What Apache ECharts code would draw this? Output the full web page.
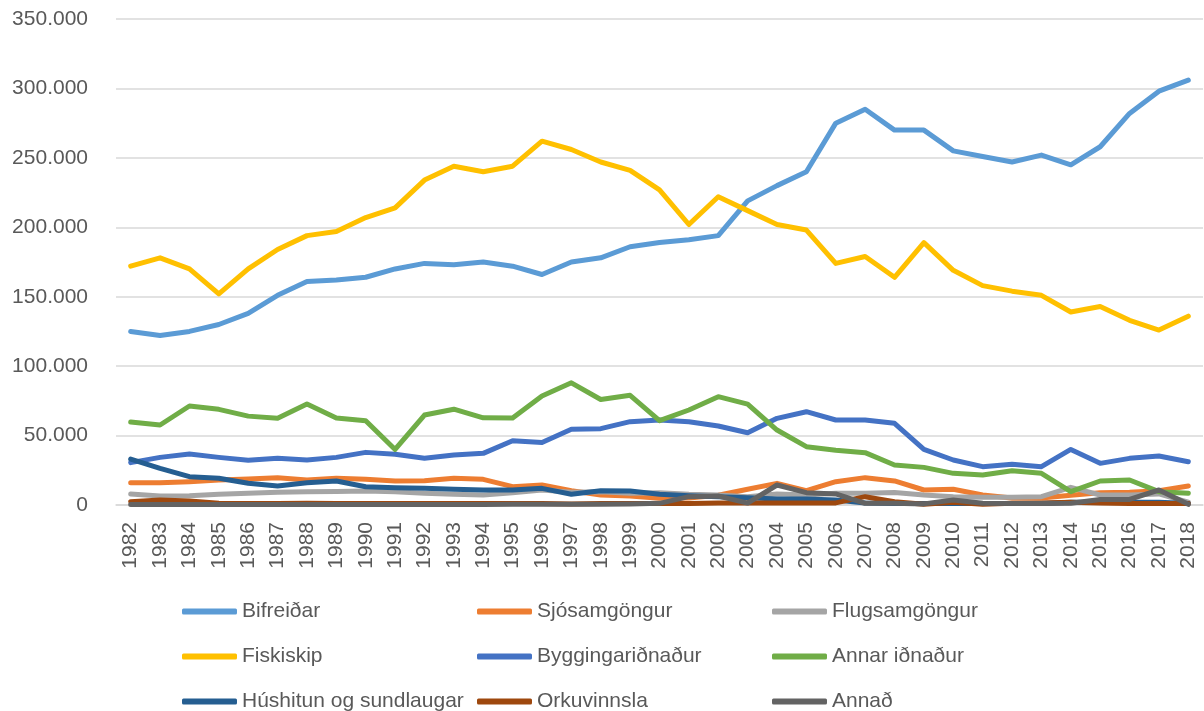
<!DOCTYPE html>
<html lang="is" style="height: 100%">
<head>
  <meta charset="utf-8">
</head>
<body style="height: 100%; margin: 0; background: #fff">
  <div id="container" style="width: 1204px; height: 711px"></div>

  <script type="text/javascript" src="https://cdn.jsdelivr.net/npm/echarts@6/dist/echarts.min.js"></script>

  <script type="text/javascript">
    var years = ['1982', '1983', '1984', '1985', '1986', '1987', '1988', '1989', '1990', '1991',
      '1992', '1993', '1994', '1995', '1996', '1997', '1998', '1999', '2000', '2001', '2002',
      '2003', '2004', '2005', '2006', '2007', '2008', '2009', '2010', '2011', '2012', '2013',
      '2014', '2015', '2016', '2017', '2018'];

    var bifreidar = [125000, 122000, 125000, 130000, 138000, 151000, 161000, 162000, 164000, 170000,
      174000, 173000, 175000, 172000, 166000, 175000, 178000, 186000, 189000, 191000, 194000,
      219000, 230000, 240000, 275000, 285000, 270000, 270000, 255000, 251000, 247000, 252000,
      245000, 258000, 282000, 298000, 306000];
    var sjosamgongur = [16000, 16000, 16800, 18000, 18700, 19700, 18000, 19200, 18500, 17300,
      17500, 19200, 18500, 13200, 14400, 10300, 7200, 6500, 4800, 5000, 7000,
      11300, 15600, 10300, 16800, 19700, 17300, 10800, 11300, 7200, 5000, 5000,
      7000, 8900, 9200, 10300, 13700];
    var flugsamgongur = [7900, 6500, 6700, 7700, 8400, 9100, 9600, 9800, 10000, 9600,
      8400, 7700, 7200, 8900, 10800, 9100, 9600, 8400, 8900, 7700, 7200,
      6000, 7900, 7200, 8400, 8400, 9000, 7200, 6000, 5500, 5500, 6000,
      12700, 7200, 7200, 8000, 2000];
    var fiskiskip = [172000, 178000, 170000, 152000, 170000, 184000, 194000, 197000, 207000, 214000,
      234000, 244000, 240000, 244000, 262000, 256000, 247000, 241000, 227000, 202000, 222000,
      212000, 202000, 198000, 174000, 179000, 164000, 189000, 169000, 158000, 154000, 151000,
      139000, 143000, 133000, 126000, 136000];
    var byggingar = [30500, 34300, 36700, 34300, 32200, 33600, 32400, 34300, 37900, 36500,
      33600, 36000, 37200, 46300, 45000, 54500, 55000, 60000, 61200, 60000, 56900,
      52000, 62400, 67200, 61200, 61200, 58800, 40000, 32400, 27600, 29300, 27600,
      40000, 30000, 33600, 35300, 31200];
    var annarIdnadur = [59800, 57600, 71300, 68900, 64000, 62400, 72700, 62600, 60700, 40000,
      64800, 69000, 62800, 62600, 78500, 88000, 76000, 79000, 60700, 68400, 78000,
      72700, 54000, 42000, 39500, 37700, 28800, 27100, 22800, 21600, 24700, 22800,
      9600, 17300, 18000, 9600, 8400];
    var hushitun = [33100, 26400, 20400, 19200, 15600, 13700, 16000, 17300, 13200, 12500,
      12000, 11300, 10800, 10800, 12000, 7700, 10300, 10100, 7700, 6700, 6000,
      5300, 4300, 4300, 3600, 1500, 1000, 1000, 1000, 1000, 1000, 1000,
      2000, 2000, 2000, 2000, 1000];
    var orkuvinnsla = [2400, 3600, 2900, 1200, 1000, 1000, 1200, 1000, 1000, 1000,
      1000, 1000, 1000, 1000, 1000, 800, 1000, 1000, 1000, 1000, 1500,
      1500, 1500, 1500, 1500, 6000, 2400, 500, 1900, 500, 1200, 1500,
      2000, 1500, 1000, 1000, 1000];
    var annad = [400, 400, 400, 400, 400, 400, 400, 400, 400, 400,
      400, 400, 400, 500, 500, 500, 500, 800, 1200, 6000, 6500,
      1400, 14400, 8900, 8000, 1200, 1200, 800, 3600, 1200, 1000, 1000,
      1200, 4000, 4000, 10800, 500];

    var seriesNames = ['Bifreiðar', 'Sjósamgöngur', 'Flugsamgöngur', 'Fiskiskip', 'Byggingariðnaður',
      'Annar iðnaður', 'Húshitun og sundlaugar', 'Orkuvinnsla', 'Annað'];
    var seriesData = [bifreidar, sjosamgongur, flugsamgongur, fiskiskip, byggingar,
      annarIdnadur, hushitun, orkuvinnsla, annad];
    var colors = ['#5B9BD5', '#ED7D31', '#A5A5A5', '#FFC000', '#4472C4',
      '#70AD47', '#255E91', '#9E480E', '#636363'];

    var font = 'Liberation Sans, Arial, sans-serif';
    var textColor = '#595959';

    var myChart = echarts.init(document.getElementById('container'), null, { renderer: 'canvas' });

    // legend is 3 columns, one vertical legend per column
    function legendCol(left, names) {
      return {
        orient: 'vertical',
        left: left,
        top: 596,
        height: 140,
        itemWidth: 55,
        itemHeight: 6,
        itemGap: 24,
        icon: 'roundRect',
        data: names,
        textStyle: { color: textColor, fontSize: 21, fontFamily: font, lineHeight: 20 }
      };
    }

    var option = {
      color: colors,
      animation: false,
      grid: { left: 116, right: 1, top: 19, bottom: 206 },
      legend: [
        legendCol(177, [seriesNames[0], seriesNames[3], seriesNames[6]]),
        legendCol(472, [seriesNames[1], seriesNames[4], seriesNames[7]]),
        legendCol(767, [seriesNames[2], seriesNames[5], seriesNames[8]])
      ],
      xAxis: {
        type: 'category',
        data: years,
        boundaryGap: true,
        axisTick: { show: false },
        axisLine: { lineStyle: { color: '#d9d9d9', width: 1.5 } },
        axisLabel: {
          rotate: 90, interval: 0, margin: 17,
          color: textColor, fontSize: 21, fontFamily: font
        }
      },
      yAxis: {
        type: 'value',
        min: 0,
        max: 350000,
        interval: 50000,
        axisLine: { show: false },
        axisTick: { show: false },
        splitLine: { lineStyle: { color: '#d9d9d9', width: 1.5 } },
        axisLabel: {
          margin: 28, color: textColor, fontSize: 21, fontFamily: font,
          formatter: function (v) {
            return String(v).replace(/\B(?=(\d{3})+(?!\d))/g, '.');
          }
        }
      },
      series: seriesNames.map(function (name, i) {
        return {
          name: name,
          type: 'line',
          data: seriesData[i],
          showSymbol: false,
          symbol: 'none',
          lineStyle: { width: 5, color: colors[i], cap: 'round', join: 'round' },
          itemStyle: { color: colors[i] }
        };
      })
    };

    myChart.setOption(option);
    window.addEventListener('resize', myChart.resize);
  </script>
</body>
</html>
